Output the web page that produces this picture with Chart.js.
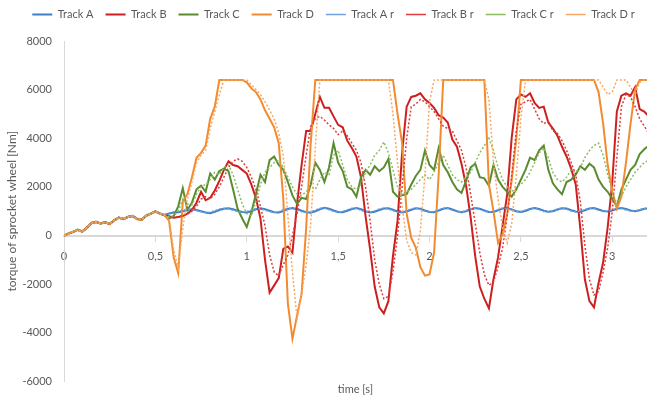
<!DOCTYPE html>
<html>
<head>
<meta charset="utf-8">
<script src="https://cdn.jsdelivr.net/npm/chart.js@4"></script>
<style>
  html, body { margin: 0; padding: 0; background: #ffffff; }
  #wrap { width: 647px; height: 400px; }
</style>
</head>
<body>
<div id="wrap"><canvas id="myChart" width="647" height="400"></canvas></div>
<script>
// sample instants [s]
const sampleTimes = [
  0, 0.025, 0.05, 0.075, 0.1, 0.125, 0.15, 0.175,
  0.2, 0.225, 0.25, 0.275, 0.3, 0.325, 0.35, 0.375,
  0.4, 0.425, 0.45, 0.475, 0.5, 0.525, 0.55, 0.575,
  0.6, 0.625, 0.65, 0.675, 0.7, 0.725, 0.75, 0.775,
  0.8, 0.825, 0.85, 0.875, 0.9, 0.925, 0.95, 0.975,
  1, 1.025, 1.05, 1.075, 1.1, 1.125, 1.15, 1.175,
  1.2, 1.225, 1.25, 1.275, 1.3, 1.325, 1.35, 1.375,
  1.4, 1.425, 1.45, 1.475, 1.5, 1.525, 1.55, 1.575,
  1.6, 1.625, 1.65, 1.675, 1.7, 1.725, 1.75, 1.775,
  1.8, 1.825, 1.85, 1.875, 1.9, 1.925, 1.95, 1.975,
  2, 2.025, 2.05, 2.075, 2.1, 2.125, 2.15, 2.175,
  2.2, 2.225, 2.25, 2.275, 2.3, 2.325, 2.35, 2.375,
  2.4, 2.425, 2.45, 2.475, 2.5, 2.525, 2.55, 2.575,
  2.6, 2.625, 2.65, 2.675, 2.7, 2.725, 2.75, 2.775,
  2.8, 2.825, 2.85, 2.875, 2.9, 2.925, 2.95, 2.975,
  3, 3.025, 3.05, 3.075, 3.1, 3.125, 3.15, 3.175,
  3.2
];

const seriesNames = ["Track A", "Track B", "Track C", "Track D", "Track A r", "Track B r", "Track C r", "Track D r"];

const trackA = [
  0, 90, 150, 240, 170, 310, 510, 570, 490, 550,
  480, 620, 740, 670, 770, 800, 690, 650, 810, 910,
  980, 910, 850, 900, 950, 960, 1000, 1050, 1080, 1050,
  1000, 950, 920, 980, 1050, 1100, 1120, 1080, 1020, 970,
  950, 1000, 1080, 1120, 1080, 1020, 960, 950, 1010, 1090,
  1130, 1090, 1020, 960, 940, 1000, 1080, 1140, 1100, 1030,
  970, 960, 1020, 1090, 1130, 1080, 1000, 950, 980, 1050,
  1110, 1120, 1060, 990, 950, 990, 1060, 1120, 1100, 1030,
  970, 960, 1030, 1100, 1130, 1070, 1000, 960, 1000, 1080,
  1130, 1100, 1030, 970, 970, 1040, 1110, 1130, 1070, 1000,
  970, 1010, 1090, 1130, 1090, 1020, 980, 1000, 1070, 1120,
  1110, 1040, 990, 980, 1040, 1110, 1130, 1070, 1010, 990,
  1030, 1100, 1130, 1090, 1030, 1000, 1040, 1100, 1120
];

const trackB = [
  0, 80, 150, 230, 160, 320, 520, 550, 500, 540,
  470, 630, 730, 680, 760, 810, 680, 640, 820, 900,
  990, 900, 830, 780, 730, 760, 800, 900, 1050, 1350,
  1800, 1450, 1550, 1850, 2250, 2700, 3050, 2900, 2850, 2700,
  2550, 2100, 1550, 700, -1000, -2350, -2050, -1750, -550, -450,
  -700, 1300, 2900, 4300, 4300, 5000, 5700, 5250, 5250, 4900,
  4550, 4450, 3900, 3600, 3250, 2400, 800, -570, -2100, -2950,
  -3200, -2700, -850, 600, 3400, 5300, 5700, 5750, 5850, 5600,
  5450, 5250, 4950, 4850, 4650, 3950, 3650, 2950, 2050, 750,
  -850, -2100, -2600, -3000, -1800, -900, 400, 1700, 4050, 5600,
  5800, 5700, 5850, 5450, 5250, 5300, 4650, 4400, 4100, 3650,
  3250, 2750, 2100, 300, -1800, -2700, -2950, -1950, -1100, 350,
  2200, 5100, 5750, 5850, 5750, 6100, 5200, 5100, 4900
];

const trackC = [
  0, 85, 155, 235, 165, 315, 525, 555, 505, 545,
  475, 625, 735, 675, 765, 805, 685, 645, 825, 895,
  985, 905, 830, 700, 800, 1200, 1950, 1050, 1350, 1900,
  2050, 1800, 2550, 2300, 2650, 2750, 2650, 1900, 1100, 700,
  350, 950, 1700, 2500, 2200, 3100, 3250, 2900, 2700, 2200,
  1650, 1300, 1550, 1500, 2100, 3000, 2700, 2200, 2800, 3800,
  3000, 2650, 2000, 1900, 1600, 2400, 2700, 2500, 2850, 2650,
  2800, 3150, 1800, 1600, 1650, 1700, 2100, 2450, 2700, 3500,
  2900, 2700, 3600, 2900, 2600, 2200, 1900, 1750, 2250, 2800,
  2950, 2400, 2350, 2050, 2900, 2300, 2000, 1800, 1600, 1900,
  2300, 2700, 3200, 3100, 3500, 3700, 2700, 2150, 1900, 1700,
  2200, 2300, 2500, 2850, 2700, 2950, 2800, 2300, 2000, 1800,
  1500, 1200, 1900, 2300, 2700, 2900, 3350, 3550, 3700
];

const trackD = [
  0, 80, 160, 230, 160, 320, 520, 560, 500, 540,
  470, 630, 730, 680, 760, 810, 680, 640, 820, 900,
  990, 900, 850, 600, -900, -1550, 1400, 1700, 2400, 3200,
  3400, 3700, 4800, 5300, 6400, 6400, 6400, 6400, 6400, 6400,
  6300, 6050, 5900, 5600, 5150, 4800, 4450, 3800, 1500, -2800,
  -4250, -3300, -2400, 300, 3800, 6400, 6400, 6400, 6400, 6400,
  6400, 6400, 6400, 6400, 6400, 6400, 6400, 6400, 6400, 6400,
  6400, 6400, 6400, 5000, 3800, 900, -100, -500, -1300, -1650,
  -1600, -700, 2500, 6400, 6400, 6400, 6400, 6400, 6400, 6400,
  6400, 6400, 6400, 2100, 1000, -300, 50, 900, 2300, 4000,
  6400, 6400, 6400, 6400, 6400, 6400, 6400, 6400, 6400, 6400,
  6400, 6400, 6400, 6400, 6400, 6400, 6400, 5900, 4600, 2900,
  1800, 1100, 1600, 3000, 4600, 6000, 6400, 6400, 6400
];

const trackAr = [
  0, 70, 170, 220, 180, 330, 500, 560, 510, 530,
  490, 610, 720, 690, 750, 820, 670, 660, 800, 890,
  1000, 890, 860, 930, 980, 1000, 1040, 1080, 1060, 1020,
  980, 940, 960, 1020, 1090, 1120, 1090, 1040, 990, 960,
  990, 1060, 1110, 1100, 1040, 980, 950, 990, 1060, 1120,
  1110, 1040, 980, 950, 980, 1050, 1120, 1120, 1060, 990,
  960, 990, 1060, 1120, 1110, 1040, 970, 960, 1020, 1090,
  1130, 1090, 1020, 960, 970, 1030, 1100, 1130, 1070, 1000,
  960, 990, 1060, 1120, 1110, 1040, 980, 970, 1030, 1100,
  1120, 1070, 1000, 960, 1000, 1070, 1120, 1100, 1040, 980,
  990, 1050, 1110, 1120, 1060, 990, 970, 1020, 1090, 1130,
  1080, 1010, 970, 1000, 1070, 1120, 1110, 1040, 990, 1000,
  1060, 1120, 1110, 1050, 1000, 1010, 1070, 1110, 1100
];

const trackBr = [
  0, 70, 160, 220, 170, 330, 510, 560, 510, 530,
  480, 620, 740, 670, 770, 800, 690, 650, 810, 890,
  980, 890, 840, 800, 760, 770, 820, 880, 1000, 1200,
  1500, 1600, 1500, 1700, 2000, 2400, 2800, 3050, 3150, 3050,
  2800, 2400, 1900, 1200, 400, -800, -1500, -1650, -1200, -800,
  0, 900, 2000, 3300, 4500, 4800, 4900, 4750, 4550, 4400,
  4150, 4300, 4100, 3800, 3500, 3000, 2000, 600, -1000, -2000,
  -2600, -2500, -1500, 0, 2000, 4000, 5300, 5400, 5600, 5500,
  5300, 5100, 4800, 4500, 4400, 4300, 3900, 3500, 2800, 1700,
  500, -700, -1600, -2050, -1900, -1300, -500, 800, 2500, 4300,
  5400, 5500, 5600, 5200, 4800, 4600, 4700, 4300, 4200, 3900,
  3500, 3000, 2500, 1400, -400, -1800, -2450, -2300, -1500, -500,
  1000, 3200, 5300, 5800, 5700, 5300, 4800, 4500, 4200
];

const trackCr = [
  0, 75, 165, 225, 155, 325, 515, 565, 495, 535,
  485, 615, 725, 685, 755, 815, 675, 655, 815, 905,
  975, 895, 840, 760, 820, 1000, 1500, 1300, 1250, 1700,
  2000, 2100, 2300, 2600, 2500, 2800, 2900, 2500, 1900, 1300,
  900, 800, 1400, 2100, 2600, 2800, 3000, 3100, 2800, 2400,
  2000, 1700, 1650, 1800, 2000, 1900, 2300, 2600, 2500, 3300,
  3500, 2900, 2300, 2000, 1900, 2100, 2600, 2900, 3300, 3500,
  3850, 3400, 2700, 2000, 1700, 1800, 1900, 2100, 2300, 2500,
  2300, 2600, 3000, 3300, 2900, 2500, 2300, 2200, 2400, 2600,
  3000, 3400, 3700, 4000, 3500, 2800, 2300, 2000, 1800, 2000,
  2100, 2300, 2600, 3000, 3400, 3600, 3200, 2600, 2300, 2200,
  2400, 2700, 2600, 2800, 3200, 3500, 3700, 3800, 3300, 2500,
  1800, 1300, 1600, 2000, 2300, 2600, 2800, 3000, 3100
];

const trackDr = [
  0, 75, 165, 225, 165, 315, 515, 565, 495, 545,
  475, 625, 735, 675, 765, 805, 685, 645, 825, 895,
  985, 905, 840, 700, -600, -1350, 300, 1500, 2200, 3000,
  3300, 3500, 4400, 5100, 5800, 6400, 6400, 6400, 6400, 6400,
  6400, 6200, 6000, 5800, 5500, 5150, 4800, 4200, 3300, 800,
  -1500, -3400, -2400, -1200, 500, 3600, 6400, 6400, 6400, 6400,
  6400, 6400, 6400, 6400, 6400, 6400, 6400, 6400, 6400, 6400,
  6400, 6400, 5000, 3000, 1200, -200, -700, -800, 200, 2500,
  5500, 6400, 6400, 6400, 6400, 6400, 6400, 6400, 6400, 6400,
  6400, 6400, 6400, 5600, 3000, 1500, 300, -300, 500, 2500,
  4800, 6400, 6400, 6400, 6400, 6400, 6400, 6400, 6400, 6400,
  6400, 6400, 6400, 6400, 6400, 6400, 6400, 6400, 6100, 5800,
  5900, 6400, 6400, 6400, 6100, 5800, 6300, 6400, 6400
];

const xTicks = [0, 0.5, 1, 1.5, 2, 2.5, 3];
const xTickLabels = ["0", "0,5", "1", "1,5", "2", "2,5", "3"];
const yTicks = [-6000, -4000, -2000, 0, 2000, 4000, 6000, 8000];
const yTickLabels = ["-6000", "-4000", "-2000", "0", "2000", "4000", "6000", "8000"];

const seriesValues = [trackA, trackB, trackC, trackD, trackAr, trackBr, trackCr, trackDr];
const seriesColors = ["#3f7fc6", "#cc1f1f", "#5a8c2f", "#f28b2f", "#6ea3dc", "#de3c3a", "#8dbb63", "#f7a865"];

const TEXT_COLOR = "#595959";
const AXIS_COLOR = "#d9d9d9";
const FONT_FAMILY = "Lato, 'Liberation Sans', sans-serif";


function toPoints(values) {
	return values.map((v, i) => ({ x: sampleTimes[i], y: v }));
}

const datasets = seriesNames.map((name, i) => {
	const dotted = i >= 4;
	return {
		label: name,
		data: toPoints(seriesValues[i]),
		borderColor: seriesColors[i],
		backgroundColor: "rgba(0,0,0,0)",
		borderWidth: dotted ? 1.5 : 2,
		borderDash: dotted ? [2, 2] : [],
		pointRadius: 0,
		tension: 0,
		fill: false,
		order: -i   // later series on top, like the spreadsheet
	};
});

// extra room between legend and plot, and nudge the legend a bit up/right
const legendGap = {
	id: "legendGap",
	beforeInit(chart) {
		const fit = chart.legend.fit;
		chart.legend.fit = function () {
			fit.bind(chart.legend)();
			this.height += 8;
		};
	},
	afterLayout(chart) {
		const lg = chart.legend;
		lg.left += 10;
		lg.right += 10;
		lg.top -= 3;
	}
};

new Chart("myChart", {
	type: "line",
	data: { datasets: datasets },
	plugins: [legendGap],
	options: {
		responsive: false,
		animation: false,
		devicePixelRatio: 1,
		layout: { padding: { left: 0, right: 0, top: 0, bottom: 0 } },
		plugins: {
			legend: {
				display: true,
				position: "top",
				labels: {
					boxWidth: 20,
					boxHeight: 0,
					padding: 12,
					color: TEXT_COLOR,
					font: { family: FONT_FAMILY, size: 11 },
					sort: (a, b) => a.datasetIndex - b.datasetIndex
				}
			},
			tooltip: { enabled: false }
		},
		scales: {
			x: {
				type: "linear",
				axis: "x",
				min: 0,
				max: 3.19,
				position: { y: 0 },
				afterBuildTicks: (scale) => { scale.ticks = xTicks.map(v => ({ value: v })); },
				ticks: {
					autoSkip: false,
					maxRotation: 0,
					padding: 9,
					color: TEXT_COLOR,
					font: { family: FONT_FAMILY, size: 11 },
					callback: (value) => xTickLabels[xTicks.indexOf(value)]
				},
				grid: { display: true, drawOnChartArea: false, drawTicks: true, tickLength: 5, color: AXIS_COLOR },
				border: { display: true, color: AXIS_COLOR, width: 2 }
			},
			xTitle: {
				type: "linear",
				axis: "x",
				min: 0,
				max: 3.19,
				position: "bottom",
				ticks: { display: false },
				grid: { display: false, drawTicks: false },
				border: { display: false },
				title: {
					display: true,
					text: "time [s]",
					color: TEXT_COLOR,
					font: { family: FONT_FAMILY, size: 11 },
					padding: { top: 2, bottom: 3 }
				},
				afterFit: (scale) => { scale.height = 18; }
			},
			y: {
				type: "linear",
				min: -6000,
				max: 8000,
				afterBuildTicks: (scale) => { scale.ticks = yTicks.map(v => ({ value: v })); },
				ticks: {
					padding: 12,
					color: TEXT_COLOR,
					font: { family: FONT_FAMILY, size: 11 },
					callback: (value) => yTickLabels[yTicks.indexOf(value)]
				},
				grid: { display: false, drawTicks: false },
				border: { display: true, color: AXIS_COLOR, width: 1 },
				title: {
					display: true,
					text: "torque of sprocket wheel [Nm]",
					color: TEXT_COLOR,
					font: { family: FONT_FAMILY, size: 12 },
					padding: { top: 5, bottom: 0 }
				},
				afterFit: (scale) => { scale.width = 64; }
			}
		}
	}
});
</script>
</body>
</html>
